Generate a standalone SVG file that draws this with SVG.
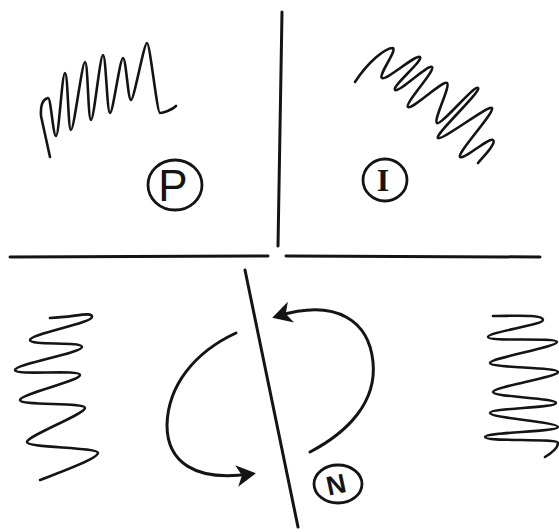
<svg xmlns="http://www.w3.org/2000/svg" width="559" height="532" viewBox="0 0 559 532">
<style>
.s{fill:none;stroke:#141414;stroke-linecap:round;stroke-linejoin:round}
.ax{stroke-width:3}
.z{stroke-width:2.6}
.c{fill:none;stroke:#141414;stroke-width:2.8}
.t{fill:#141414;text-anchor:middle}
</style>
<defs>
<marker id="ah" markerWidth="8" markerHeight="8" refX="4.5" refY="4" orient="auto" markerUnits="strokeWidth">
<path d="M0,0.4 L6.5,4 L0,7.6 L1.8,4 Z" fill="#141414"/>
</marker>
</defs>
<rect width="559" height="532" fill="#fff"/>
<!-- axes -->
<path class="s ax" d="M282,12 L278,246"/>
<path class="s ax" d="M10,257 L268,256"/>
<path class="s ax" d="M286,256 L540,257"/>
<path class="s ax" d="M245,270 L298,527"/>
<!-- top-left zigzag -->
<path class="s z" d="M50,157 L41,116 Q40,100 48,98 C51,98 53,136 56,136 C59,136 62,73 65,73 C68,73 68,130 71,130 C74,130 82,62 85,62 C88,62 88,120 91,120 C94,120 100,55 103,55 C106,55 107,113 110,113 C113,113 120,58 123,58 C126,58 128,100 131,100 C134,100 144,43 147,43 C150,43 157,113 160,113 C163,113 172,110 176,106"/>
<!-- top-right zigzag -->
<path class="s z" d="M355,82 C368,62 385,48 393,48 C397,51 378,75 382,78 C386,81 416,54 420,57 C424,60 391,87 395,90 C399,93 428,64 432,67 C436,70 404,104 408,107 C412,110 443,80 447,83 C451,86 433,120 437,123 C441,126 474,85 478,88 C482,91 434,135 438,138 C442,141 488,105 492,108 C496,111 456,154 460,157 C464,160 489,137 493,140 C497,143 482,158 478,163"/>
<!-- bottom-left spring -->
<path class="s z" d="M50,318 C75,317 92,311 92,317 C92,323 30,334 30,340 C30,346 82,341 82,347 C82,353 15,364 15,370 C15,376 80,369 80,375 C80,381 20,394 20,400 C20,406 85,402 85,408 C85,414 27,436 27,442 C27,448 98,447 98,453 C98,459 50,476 40,480"/>
<!-- bottom-right spring -->
<path class="s z" d="M493,316 C515,316 543,314 543,320 C543,325 488,332 488,337 C488,342 557,337 557,342 C557,347 490,358 490,363 C490,368 558,367 558,372 C558,377 493,387 493,392 C493,397 556,398 556,403 C556,408 490,408 490,413 C490,418 558,422 558,427 C558,432 485,432 485,437 C485,442 558,438 558,443 C558,448 550,454 545,457"/>
<!-- cycle arrows -->
<g id="connectors">
<path class="s ax" marker-end="url(#ah)" d="M236,333 C195,352 168,385 167,425 C167,462 195,482 250,474"/>
<path class="s ax" marker-end="url(#ah)" d="M310,452 C348,432 377,402 373,362 C369,322 338,298 278,316"/>
</g>
<!-- labels -->
<g id="P">
<ellipse class="c" cx="175" cy="185" rx="27" ry="25"/>
<text class="t" x="173" y="201" font-family="Liberation Sans, sans-serif" font-size="44">P</text>
</g>
<g id="I">
<ellipse class="c" cx="385" cy="180" rx="22" ry="21"/>
<text class="t" x="383" y="191" font-family="Liberation Serif, serif" font-size="32" font-weight="bold">I</text>
</g>
<g id="N">
<ellipse class="c" cx="338" cy="484" rx="24" ry="19"/>
<text class="t" x="336" y="494" font-family="Liberation Sans, sans-serif" font-size="27" font-weight="bold" transform="rotate(-12 336 484)">N</text>
</g>
</svg>
